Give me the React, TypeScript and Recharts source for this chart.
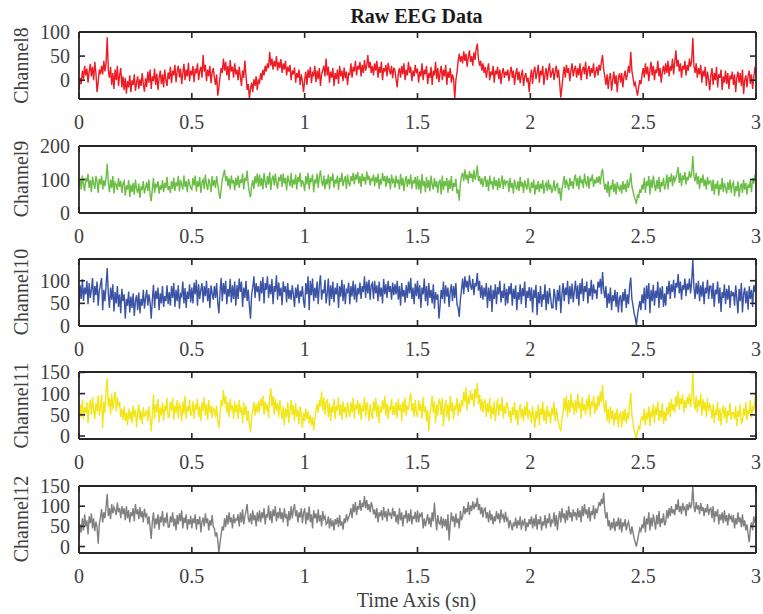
import React from 'react';
import { LineChart, Line, XAxis, YAxis } from 'recharts';

// ---- data (one sample every 0.005 s; one row = 0.1 s) ----
const SAMPLE_STEP = 0.005;
const timeTicks = [0, 0.5, 1, 1.5, 2, 2.5, 3];

const channel8 = [
  -20, 5, -8, 20, 2, 30, 10, 24, -5, 18, 34, 8, 28, 0, 38, 15, -25, -4, 22, 12,
  30, 12, 40, 18, 35, 89, 20, 5, 28, -10, 15, -18, 22, 0, 30, -12, 10, 25, -15, 8,
  -20, 5, -28, -2, -15, 10, -25, 0, -10, 12, -22, -5, 8, -18, 2, -12, 15, -8, -24, 4,
  -14, 18, -5, 22, -18, 8, -2, 24, -10, 14, -20, 5, 20, -8, 12, -15, 22, 0, -12, 16,
  2, 28, -6, 20, 10, 32, -4, 18, 30, 6, 24, -8, 15, 34, 0, 22, 8, 36, -2, 20,
  10, 30, -4, 24, 14, 35, 0, 20, 28, 5, 52, 18, 32, -2, 22, 8, 30, -6, 16, 25,
  5, -10, 12, -32, -15, 8, 25, 15, 45, 20, 38, 10, 30, 0, 42, 18, 28, 5, 35, 12,
  22, 0, 28, 8, -12, 20, 5, 41, 10, -20, -8, -39, -18, -5, -25, 2, -12, 8, -20, 0,
  -5, 15, 0, 22, 10, 30, 18, 35, 25, 59, 30, 45, 22, 40, 28, 50, 20, 38, 25, 44,
  15, 35, 22, 40, 10, 28, 18, 32, 0, 20, 12, 26, -5, 15, 5, 22, -10, 12, -2, -25,
  0, 18, -10, 22, 5, 28, -6, 15, 10, 30, -4, 20, 2, 25, -12, 12, 20, 30, 8, 45,
  10, 28, -5, 18, 5, 25, -12, 15, 2, 22, -8, 30, 8, 20, -2, 26, 4, 18, -10, 14,
  12, 35, 5, 28, 18, 40, 10, 30, 22, 38, 8, 32, 15, 42, 20, 30, 52, 25, 38, 15,
  30, 10, 35, 20, 40, 5, 28, 15, 38, 0, 25, 18, 32, 8, 36, 22, 12, 30, 4, 26,
  20, 2, -15, 15, 25, 5, 30, 12, 35, 0, 22, 10, 38, 15, 28, -2, 20, 8, 32, 14,
  24, -5, 18, 8, 35, 0, 22, 12, 30, -8, 15, 5, 28, -10, 20, 10, 38, 2, 25, -4,
  15, 30, 0, 22, 8, 32, -10, 18, 5, 25, -5, 12, 2, -39, 0, 15, 40, 55, 38, 50,
  35, 60, 40, 55, 28, 48, 62, 38, 50, 30, 58, 42, 65, 76, 45, 30, 40, 20, 35, 15,
  28, 5, 22, 35, 0, 18, 10, 30, -5, 20, 12, 28, 2, 22, -8, 15, 25, 5, 18, 10,
  22, -2, 15, 28, 5, 20, -10, 12, 25, 0, 18, -6, 10, 22, -12, 8, 15, -4, 5, -25,
  5, 22, -8, 18, 28, 2, 15, 32, -5, 20, 10, 30, -10, 12, 25, 0, 20, 35, 5, 15,
  25, 0, 18, 30, 5, 22, -6, -36, -15, 10, 28, 5, 32, 15, 25, -2, 20, 35, 8, 22,
  30, 5, 25, 10, 35, 0, 20, 28, 12, 38, 2, 22, 30, 8, 25, 15, 35, 5, 18, 28,
  10, 32, 20, 38, 52, 22, 8, -10, 12, -18, 5, 15, -22, 0, 18, -8, 10, -25, 5, 14,
  -5, 15, -15, 8, 20, 0, 12, 30, 15, 59, 20, 5, -10, -5, -20, -32, -15, 0, -8, 10,
  25, 5, 35, 12, 28, -2, 20, 38, 10, 30, 0, 22, 15, 40, 8, 25, -5, 18, 30, 12,
  35, 15, 40, 8, 30, 20, 45, 12, 38, 62, 28, 42, 18, 35, 5, 30, 22, 40, 10, 32,
  20, 45, 28, 40, 88, 30, 15, 35, 5, 25, 12, 32, -5, 20, 8, 28, -12, 18, 2, -21,
  10, 25, -10, 15, 0, 28, -15, 12, 5, 22, -20, 8, -5, 20, -8, 15, -18, 10, 2, 18,
  -10, 12, -25, 5, 18, -5, 15, -12, 22, -29, 0, 10, -15, 8, 20, -8, 12, -18, 5, 25,
  20,
];

const channel9 = [
  77, 100, 70, 112, 85, 65, 105, 92, 117, 75, 98, 62, 108, 88, 72, 110, 95, 60, 102, 85,
  112, 70, 98, 80, 105, 147, 90, 62, 100, 75, 110, 58, 92, 85, 68, 104, 78, 96, 60, 88,
  95, 52, 82, 70, 98, 48, 85, 62, 90, 55, 100, 72, 60, 88, 45, 80, 68, 95, 58, 75,
  92, 65, 100, 55, 35, 72, 104, 60, 88, 78, 95, 58, 82, 70, 98, 62, 90, 75, 108, 68,
  80, 60, 95, 72, 105, 66, 92, 80, 110, 64, 98, 85, 70, 112, 78, 95, 62, 102, 88, 74,
  70, 105, 82, 112, 64, 95, 78, 108, 60, 92, 100, 72, 115, 85, 68, 102, 90, 62, 110, 80,
  98, 75, 110, 85, 60, 42, 72, 100, 115, 129, 95, 110, 80, 104, 70, 112, 88, 98, 68, 105,
  82, 112, 75, 100, 90, 118, 70, 105, 95, 127, 85, 60, 47, 80, 98, 72, 110, 88, 118, 78,
  115, 80, 105, 70, 120, 92, 75, 110, 85, 122, 68, 100, 112, 82, 118, 90, 72, 108, 95, 115,
  78, 118, 88, 105, 67, 112, 95, 80, 120, 75, 100, 85, 115, 70, 108, 92, 120, 78, 98, 88,
  65, 110, 85, 120, 70, 105, 92, 115, 62, 100, 88, 118, 75, 108, 127, 95, 80, 112, 70, 102,
  85, 115, 70, 108, 95, 118, 75, 100, 88, 112, 68, 105, 92, 120, 80, 98, 110, 72, 115, 90,
  80, 110, 95, 120, 85, 115, 100, 122, 88, 110, 78, 118, 95, 108, 85, 124, 98, 112, 82, 105,
  95, 115, 80, 108, 90, 118, 72, 102, 85, 120, 95, 110, 78, 112, 88, 104, 70, 115, 92, 100,
  75, 112, 88, 100, 70, 117, 82, 105, 65, 95, 110, 78, 102, 85, 115, 72, 98, 88, 108, 70,
  110, 70, 100, 58, 117, 80, 95, 62, 108, 75, 98, 65, 112, 85, 70, 104, 78, 95, 60, 92,
  100, 55, 112, 68, 95, 80, 105, 60, 98, 72, 110, 65, 90, 78, 102, 58, 70, 37, 88, 110,
  120, 95, 130, 100, 115, 88, 125, 105, 118, 92, 128, 100, 112, 142, 95, 110, 85, 105, 78, 100,
  110, 78, 100, 65, 112, 85, 95, 70, 108, 80, 98, 68, 105, 75, 90, 112, 72, 100, 85, 95,
  95, 62, 105, 75, 90, 58, 100, 80, 70, 95, 65, 108, 78, 92, 60, 98, 82, 70, 104, 75,
  60, 92, 75, 100, 55, 85, 70, 95, 62, 88, 72, 98, 58, 82, 90, 65, 100, 70, 85, 60,
  72, 98, 65, 80, 90, 58, 75, 37, 70, 90, 110, 75, 100, 85, 68, 105, 80, 95, 72, 102,
  115, 80, 105, 70, 112, 88, 100, 75, 118, 90, 82, 110, 72, 105, 95, 115, 78, 100, 88, 108,
  90, 110, 85, 118, 132, 95, 70, 88, 60, 95, 48, 82, 70, 100, 62, 88, 55, 92, 75, 68,
  85, 58, 95, 70, 88, 62, 100, 75, 90, 119, 80, 65, 50, 40, 27, 55, 45, 70, 60, 85,
  70, 105, 60, 95, 80, 110, 55, 100, 75, 112, 85, 65, 98, 72, 108, 62, 92, 80, 105, 70,
  85, 115, 70, 108, 92, 118, 80, 112, 95, 105, 120, 137, 90, 120, 80, 112, 98, 122, 85, 108,
  98, 125, 105, 118, 170, 110, 95, 120, 85, 110, 72, 105, 90, 115, 80, 100, 70, 108, 85, 95,
  95, 65, 100, 55, 88, 72, 97, 52, 85, 70, 105, 62, 90, 75, 58, 92, 68, 100, 60, 85,
  92, 50, 80, 65, 95, 47, 78, 88, 60, 100, 70, 90, 55, 85, 75, 98, 62, 105, 88, 110,
  122,
];

const channel10 = [
  39, 90, 60, 103, 55, 85, 70, 100, 48, 95, 62, 80, 106, 52, 88, 68, 98, 45, 78, 92,
  106, 35, 80, 55, 90, 128, 70, 40, 85, 58, 92, 32, 75, 50, 88, 42, 70, 28, 82, 55,
  70, 16, 60, 45, 76, 30, 65, 40, 72, 22, 55, 68, 35, 74, 28, 60, 45, 80, 38, 62,
  80, 45, 70, 52, 16, 58, 91, 40, 78, 60, 85, 35, 72, 50, 88, 42, 66, 55, 90, 48,
  75, 45, 88, 62, 95, 42, 80, 55, 90, 38, 70, 65, 98, 50, 84, 40, 76, 60, 92, 52,
  85, 50, 96, 70, 102, 45, 92, 60, 80, 95, 52, 88, 66, 100, 55, 84, 40, 90, 72, 58,
  88, 62, 95, 50, 28, 75, 106, 55, 95, 70, 100, 48, 82, 65, 104, 52, 90, 60, 98, 45,
  90, 60, 105, 75, 98, 42, 85, 62, 100, 55, 80, 45, 16, 70, 85, 110, 62, 95, 75, 88,
  55, 100, 72, 108, 50, 95, 80, 110, 62, 92, 70, 104, 48, 88, 76, 112, 58, 96, 66, 85,
  46, 98, 75, 88, 52, 95, 60, 80, 58, 90, 70, 42, 85, 62, 92, 50, 78, 65, 88, 55,
  40, 95, 70, 110, 35, 100, 68, 105, 55, 85, 62, 98, 48, 90, 112, 58, 80, 72, 102, 50,
  72, 105, 45, 90, 60, 98, 52, 85, 70, 95, 40, 88, 65, 102, 55, 92, 48, 80, 75, 96,
  48, 88, 65, 100, 58, 92, 52, 84, 70, 96, 60, 88, 75, 110, 62, 98, 72, 102, 58, 90,
  95, 60, 100, 72, 90, 55, 98, 65, 85, 50, 104, 70, 92, 62, 100, 75, 88, 58, 96, 68,
  92, 70, 100, 58, 88, 45, 95, 65, 80, 52, 90, 62, 98, 72, 106, 60, 85, 48, 94, 66,
  100, 60, 90, 40, 85, 70, 105, 55, 88, 45, 95, 62, 80, 50, 92, 38, 75, 58, 70, 16,
  45, 80, 60, 98, 50, 90, 65, 85, 42, 75, 92, 55, 88, 62, 95, 48, 40, 20, 58, 80,
  105, 70, 110, 85, 100, 75, 112, 90, 80, 104, 68, 95, 88, 117, 78, 100, 62, 90, 58, 85,
  65, 95, 40, 85, 55, 90, 31, 80, 60, 92, 48, 86, 70, 100, 52, 78, 62, 94, 45, 82,
  50, 88, 70, 95, 45, 82, 60, 90, 35, 75, 58, 92, 48, 84, 66, 98, 40, 78, 62, 86,
  55, 85, 30, 80, 62, 91, 24, 75, 50, 88, 42, 70, 58, 92, 35, 78, 48, 84, 62, 40,
  40, 82, 65, 35, 80, 55, 90, 28, 70, 95, 55, 85, 68, 100, 48, 88, 60, 94, 52, 78,
  100, 60, 90, 45, 95, 70, 105, 55, 88, 75, 98, 50, 84, 66, 102, 58, 92, 72, 80, 60,
  98, 85, 104, 70, 119, 80, 62, 88, 40, 72, 50, 85, 35, 68, 55, 80, 42, 75, 30, 62,
  68, 30, 75, 55, 82, 40, 70, 48, 88, 107, 60, 45, 28, 18, 1, 25, 40, 55, 35, 70,
  50, 85, 35, 90, 60, 95, 28, 80, 55, 91, 45, 78, 62, 98, 40, 85, 58, 88, 42, 72,
  45, 88, 70, 100, 60, 92, 75, 102, 62, 95, 85, 115, 72, 98, 58, 90, 80, 105, 66, 94,
  80, 105, 72, 98, 147, 85, 60, 95, 70, 100, 55, 90, 65, 98, 48, 85, 72, 102, 60, 88,
  88, 60, 95, 42, 80, 70, 98, 50, 85, 31, 75, 62, 92, 48, 82, 58, 90, 40, 78, 66,
  75, 45, 90, 60, 28, 82, 55, 95, 30, 70, 85, 50, 78, 36, 88, 60, 80, 42, 90, 75,
  102,
];

const channel11 = [
  23, 75, 45, 86, 40, 68, 55, 80, 30, 72, 85, 50, 92, 62, 40, 78, 58, 95, 48, 70,
  98, 19, 80, 55, 105, 137, 70, 90, 50, 100, 62, 85, 105, 58, 92, 70, 80, 45, 65, 38,
  70, 35, 55, 25, 65, 40, 58, 30, 72, 45, 62, 20, 55, 75, 38, 60, 28, 68, 45, 52,
  62, 35, 70, 42, 11, 50, 98, 40, 75, 55, 88, 32, 68, 48, 80, 36, 72, 58, 90, 45,
  45, 80, 60, 90, 38, 72, 55, 85, 42, 78, 65, 35, 82, 52, 95, 40, 70, 58, 86, 48,
  55, 82, 40, 75, 62, 88, 45, 70, 35, 80, 60, 92, 48, 76, 38, 85, 55, 72, 42, 68,
  60, 45, 72, 35, 19, 50, 85, 70, 109, 75, 95, 55, 80, 45, 88, 60, 72, 40, 82, 55,
  75, 40, 85, 55, 68, 30, 80, 50, 72, 35, 60, 28, 9, 45, 60, 80, 48, 75, 55, 82,
  55, 88, 70, 95, 50, 82, 60, 75, 42, 90, 113, 70, 95, 50, 88, 60, 78, 45, 85, 62,
  40, 70, 25, 65, 45, 80, 30, 60, 85, 50, 72, 35, 78, 45, 62, 28, 70, 52, 19, 55,
  35, 65, 40, 58, 30, 50, 25, 45, 13, 40, 60, 75, 55, 85, 70, 105, 60, 90, 50, 82,
  85, 45, 78, 35, 70, 55, 88, 40, 72, 60, 92, 48, 75, 38, 82, 55, 68, 42, 80, 58,
  45, 80, 55, 90, 40, 75, 62, 85, 50, 78, 38, 72, 58, 92, 45, 80, 65, 35, 75, 55,
  40, 82, 58, 90, 45, 75, 30, 70, 55, 85, 62, 95, 48, 78, 40, 70, 60, 88, 50, 72,
  50, 80, 42, 88, 60, 75, 35, 82, 55, 90, 48, 72, 62, 85, 102, 58, 78, 45, 85, 55,
  45, 85, 60, 75, 40, 92, 55, 70, 35, 62, 11, 50, 70, 95, 55, 82, 30, 75, 48, 88,
  80, 50, 90, 23, 65, 85, 45, 75, 35, 95, 58, 80, 40, 72, 62, 90, 48, 78, 55, 85,
  70, 105, 80, 115, 60, 95, 75, 108, 85, 100, 68, 112, 90, 125, 75, 98, 60, 88, 55, 80,
  85, 45, 78, 55, 90, 40, 70, 50, 82, 35, 65, 88, 48, 75, 58, 92, 42, 70, 52, 80,
  72, 45, 60, 30, 68, 50, 80, 38, 62, 25, 58, 75, 42, 65, 35, 70, 48, 82, 40, 60,
  55, 30, 70, 45, 19, 60, 40, 75, 25, 65, 50, 80, 35, 62, 28, 72, 45, 58, 30, 68,
  50, 80, 35, 65, 45, 30, 20, 11, 40, 55, 90, 60, 95, 45, 85, 55, 100, 65, 80, 50,
  85, 55, 100, 65, 80, 40, 92, 60, 75, 50, 88, 62, 98, 45, 82, 70, 95, 52, 78, 60,
  95, 70, 105, 80, 121, 75, 55, 85, 35, 65, 30, 70, 40, 60, 25, 55, 38, 65, 20, 50,
  55, 20, 60, 35, 65, 30, 55, 40, 75, 102, 50, 30, 15, 5, -7, 10, 25, 15, 40, 45,
  35, 65, 25, 55, 40, 70, 23, 60, 45, 75, 30, 68, 50, 82, 35, 62, 42, 78, 28, 58,
  35, 68, 50, 80, 45, 88, 60, 75, 55, 95, 70, 106, 62, 90, 75, 98, 55, 85, 65, 92,
  75, 100, 68, 92, 151, 80, 62, 95, 55, 85, 70, 100, 48, 88, 60, 80, 45, 90, 58, 75,
  70, 40, 75, 30, 62, 50, 80, 35, 65, 25, 58, 72, 42, 68, 30, 60, 48, 78, 38, 55,
  55, 40, 70, 23, 60, 45, 75, 30, 35, 65, 48, 80, 38, 62, 52, 85, 42, 70, 60, 90,
  109,
];

const channel12 = [
  15, 55, 35, 70, 40, 80, 50, 65, 30, 75, 58, 82, 45, 70, 38, 62, 48, 7, 55, 72,
  93, 60, 85, 70, 100, 130, 75, 95, 68, 105, 82, 98, 90, 78, 109, 85, 95, 70, 100, 80,
  95, 65, 100, 70, 90, 60, 85, 75, 95, 62, 105, 80, 92, 68, 98, 72, 88, 60, 94, 75,
  80, 55, 75, 48, 19, 62, 85, 45, 70, 55, 80, 42, 75, 60, 88, 50, 72, 58, 84, 48,
  48, 75, 60, 85, 50, 70, 40, 78, 55, 82, 62, 90, 45, 72, 58, 80, 42, 68, 55, 76,
  45, 70, 58, 80, 42, 68, 55, 75, 35, 62, 72, 50, 82, 58, 70, 40, 65, 52, 78, 48,
  45, 25, 35, 15, -16, 10, 30, 50, 40, 70, 48, 78, 55, 85, 60, 72, 45, 80, 58, 68,
  65, 80, 50, 85, 60, 92, 55, 75, 88, 105, 70, 60, 82, 55, 90, 65, 78, 50, 85, 62,
  90, 60, 85, 70, 95, 55, 80, 72, 102, 65, 88, 58, 92, 75, 100, 62, 85, 70, 96, 68,
  85, 60, 95, 70, 80, 50, 88, 65, 100, 70, 92, 105, 75, 90, 60, 85, 72, 95, 58, 82,
  95, 55, 85, 65, 100, 60, 80, 45, 90, 70, 82, 58, 92, 62, 78, 50, 88, 68, 75, 55,
  58, 75, 45, 70, 50, 65, 40, 68, 55, 72, 48, 78, 52, 62, 42, 70, 58, 80, 65, 72,
  80, 95, 70, 105, 85, 110, 78, 100, 92, 115, 88, 108, 98, 125, 95, 115, 90, 105, 85, 110,
  100, 80, 92, 70, 95, 60, 85, 75, 90, 65, 98, 72, 88, 62, 94, 78, 82, 68, 96, 75,
  88, 60, 80, 55, 95, 65, 85, 50, 78, 70, 90, 58, 82, 62, 92, 55, 76, 68, 86, 60,
  90, 60, 80, 75, 85, 45, 70, 50, 65, 80, 55, 72, 48, 85, 62, 109, 70, 40, 78, 58,
  55, 75, 45, 70, 50, 68, 40, 80, 15, 55, 85, 62, 75, 48, 82, 58, 70, 45, 88, 65,
  75, 100, 80, 95, 85, 110, 78, 102, 88, 112, 92, 105, 98, 121, 90, 105, 80, 98, 72, 92,
  95, 70, 85, 60, 90, 65, 80, 55, 75, 62, 88, 68, 82, 58, 92, 72, 78, 60, 86, 65,
  70, 45, 65, 55, 40, 60, 50, 72, 45, 65, 52, 75, 42, 62, 55, 70, 38, 60, 48, 68,
  55, 75, 45, 70, 50, 80, 42, 68, 55, 75, 40, 62, 52, 78, 45, 70, 58, 82, 48, 65,
  60, 85, 50, 78, 40, 70, 88, 60, 95, 70, 82, 58, 90, 65, 100, 72, 85, 62, 92, 75,
  85, 65, 95, 72, 90, 60, 100, 75, 105, 80, 92, 70, 98, 62, 88, 78, 102, 68, 95, 82,
  95, 110, 100, 118, 105, 134, 90, 70, 85, 50, 65, 40, 60, 45, 70, 38, 62, 50, 72, 42,
  70, 35, 60, 50, 68, 40, 55, 62, 45, 30, 50, 35, 20, 10, 0, 15, 30, 45, 38, 55,
  45, 75, 35, 70, 55, 85, 40, 72, 50, 80, 62, 42, 78, 55, 88, 48, 70, 58, 82, 52,
  60, 90, 70, 95, 75, 100, 82, 92, 78, 105, 90, 117, 85, 100, 80, 108, 92, 98, 75, 105,
  90, 110, 95, 105, 150, 100, 85, 110, 92, 102, 80, 108, 88, 98, 75, 95, 85, 105, 78, 92,
  95, 70, 100, 60, 88, 75, 92, 55, 80, 65, 85, 58, 90, 62, 78, 52, 82, 68, 75, 60,
  78, 45, 70, 55, 85, 60, 72, 48, 80, 50, 65, 40, 55, 30, 11, 45, 60, 40, 75, 58,
  80,
];

const channelNames = ['Channel8', 'Channel9', 'Channel10', 'Channel11', 'Channel12'];
const channelKeys = ['ch8', 'ch9', 'ch10', 'ch11', 'ch12'];
const channelColors = ['#ED1C24', '#6ABD45', '#3A53A4', '#F2E61A', '#808080'];
const channelDomains: [number, number][] = [[-39, 100], [0, 200], [0, 148], [-7, 151], [-16, 150]];
const channelTicks = [[0, 50, 100], [0, 100, 200], [0, 50, 100], [0, 50, 100, 150], [0, 50, 100, 150]];

const chartData = channel8.map((v, i) => ({
  t: Math.round(i * SAMPLE_STEP * 1000) / 1000,
  ch8: v,
  ch9: channel9[i],
  ch10: channel10[i],
  ch11: channel11[i],
  ch12: channel12[i],
}));

// ---- layout / style ----
const W = 763;
const H = 614;
const PLOT_LEFT = 79;
const PLOT_RIGHT = 756;
const PLOT_H = 67;
const M_TOP = 16;
const M_BOTTOM = 40;
const AXIS_W = 1;
const plotTops = [32, 145.5, 258.5, 372, 485.5];
const AXIS_COLOR = '#262626';
const TEXT_COLOR = '#404040';
const FONT = '"Liberation Serif", "Times New Roman", serif';
const TICK_LEN = 6;

const fmtTime = (v: number) => String(v);

const BottomTick = (props: any) => {
  const { x, y, payload } = props;
  return (
    <g>
      <line x1={x} y1={y} x2={x} y2={y - TICK_LEN} stroke={AXIS_COLOR} strokeWidth={1.6} />
      <text x={x} y={y + 29.5} textAnchor="middle" fontFamily={FONT} fontSize={20} fill={TEXT_COLOR}>
        {fmtTime(payload.value)}
      </text>
    </g>
  );
};

const TopTick = (props: any) => {
  const { x, y } = props;
  return <line x1={x} y1={y} x2={x} y2={y + TICK_LEN} stroke={AXIS_COLOR} strokeWidth={1.6} />;
};

const LeftTick = (props: any) => {
  const { x, y, payload } = props;
  return (
    <g>
      <line x1={x} y1={y} x2={x + TICK_LEN} y2={y} stroke={AXIS_COLOR} strokeWidth={1.6} />
      <text x={x - 9} y={y + 7} textAnchor="end" fontFamily={FONT} fontSize={20} fill={TEXT_COLOR}>
        {payload.value}
      </text>
    </g>
  );
};

const RightTick = (props: any) => {
  const { x, y } = props;
  return <line x1={x} y1={y} x2={x - TICK_LEN} y2={y} stroke={AXIS_COLOR} strokeWidth={1.6} />;
};

const Panel = ({ idx }: { idx: number }) => {
  const top = plotTops[idx] - M_TOP;
  const axisLine = { stroke: AXIS_COLOR, strokeWidth: 1.8 };
  const h = PLOT_H + M_TOP + M_BOTTOM;
  return (
    <div style={{ position: 'absolute', left: 0, top, width: W, height: h }}>
      <LineChart
        width={W}
        height={h}
        data={chartData}
        margin={{
          top: M_TOP - AXIS_W,
          right: W - PLOT_RIGHT - AXIS_W,
          bottom: M_BOTTOM - AXIS_W,
          left: PLOT_LEFT - AXIS_W,
        }}
      >
        <XAxis
          dataKey="t"
          type="number"
          domain={[0, 3]}
          ticks={timeTicks}
          interval={0}
          height={AXIS_W}
          tickSize={0}
          tickMargin={0}
          tickLine={false}
          axisLine={axisLine}
          tick={BottomTick}
          allowDataOverflow
        />
        <XAxis
          xAxisId="top"
          orientation="top"
          dataKey="t"
          type="number"
          domain={[0, 3]}
          ticks={timeTicks}
          interval={0}
          height={AXIS_W}
          tickSize={0}
          tickMargin={0}
          tickLine={false}
          axisLine={axisLine}
          tick={TopTick}
          allowDataOverflow
        />
        <YAxis
          type="number"
          domain={channelDomains[idx]}
          ticks={channelTicks[idx]}
          interval={0}
          width={AXIS_W}
          tickSize={0}
          tickMargin={0}
          tickLine={false}
          axisLine={axisLine}
          tick={LeftTick}
          allowDataOverflow
        />
        <YAxis
          yAxisId="right"
          orientation="right"
          type="number"
          domain={channelDomains[idx]}
          ticks={channelTicks[idx]}
          interval={0}
          width={AXIS_W}
          tickSize={0}
          tickMargin={0}
          tickLine={false}
          axisLine={axisLine}
          tick={RightTick}
          allowDataOverflow
        />
        <Line
          type="linear"
          dataKey={channelKeys[idx]}
          stroke={channelColors[idx]}
          strokeWidth={1.4}
          dot={false}
          activeDot={false}
          isAnimationActive={false}
        />
      </LineChart>
    </div>
  );
};

export default function App() {
  const centerX = (PLOT_LEFT + PLOT_RIGHT) / 2 - 1;
  return (
    <div style={{ position: 'absolute', left: 0, top: 0, width: W, height: H, background: '#fff', overflow: 'hidden' }}>
      {channelNames.map((_, i) => (
        <Panel key={i} idx={i} />
      ))}
      <svg width={W} height={H} style={{ position: 'absolute', left: 0, top: 0, pointerEvents: 'none' }}>
        <text x={centerX} y={23} textAnchor="middle" fontFamily={FONT} fontSize={20} fontWeight="bold" fill="#1a1a1a">
          Raw EEG Data
        </text>
        {channelNames.map((name, i) => (
          <text
            key={name}
            transform={`translate(28, ${plotTops[i] + PLOT_H / 2}) rotate(-90)`}
            textAnchor="middle"
            fontFamily={FONT}
            fontSize={20}
            fill={TEXT_COLOR}
          >
            {name}
          </text>
        ))}
        <text x={centerX} y={607} textAnchor="middle" fontFamily={FONT} fontSize={20} fill={TEXT_COLOR}>
          Time Axis (sn)
        </text>
      </svg>
    </div>
  );
}
